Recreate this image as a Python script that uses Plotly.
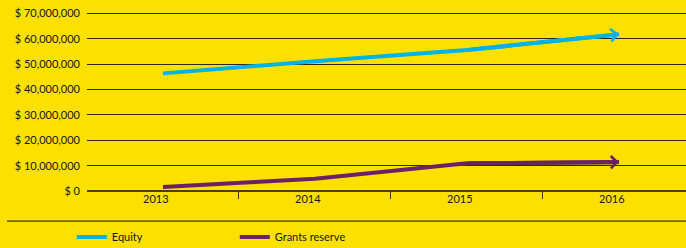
import plotly.graph_objects as go

years = ["2013", "2014", "2015", "2016"]
equity = [46.4e6, 51.2e6, 55.6e6, 61.8e6]
grants_reserve = [1.6e6, 4.8e6, 10.9e6, 11.4e6]
y_ticks = [0, 10e6, 20e6, 30e6, 40e6, 50e6, 60e6, 70e6]
y_tick_labels = ["$ 0", "$ 10,000,000", "$ 20,000,000", "$ 30,000,000",
                 "$ 40,000,000", "$ 50,000,000", "$ 60,000,000", "$ 70,000,000"]

BG = "#FCE100"
BLUE = "#00B3E6"
PURPLE = "#6A2166"
FONT = "Lato"
TXT = "#151515"
FS = 11

xpos = list(range(len(years)))

fig = go.Figure()
fig.add_trace(go.Scatter(x=xpos, y=equity, mode="lines", name="Equity",
                         line=dict(color=BLUE, width=4)))
fig.add_trace(go.Scatter(x=xpos, y=grants_reserve, mode="lines", name="Grants reserve",
                         line=dict(color=PURPLE, width=4)))
# chevron arrow heads at the end of each series
for vals, col in ((equity, BLUE), (grants_reserve, PURPLE)):
    fig.add_annotation(x=xpos[-1], y=vals[-1], ax=xpos[-2], ay=vals[-2],
                       xref="x", yref="y", axref="x", ayref="y", text="",
                       showarrow=True, arrowhead=4, arrowwidth=4, arrowsize=0.6,
                       arrowcolor=col, standoff=0)

# plot area: bottom at 191px, 25.3px per 10M; top slightly above the 70M line
Y_TOP = 71e6
plot_h = 177 * Y_TOP / 70e6
top_margin = 191 - plot_h

fig.update_layout(
    width=686, height=248,
    margin=dict(l=87, r=0, t=top_margin, b=57, autoexpand=False),
    paper_bgcolor=BG, plot_bgcolor=BG,
    font=dict(family=FONT, size=FS, color=TXT),
    showlegend=True,
    legend=dict(orientation="h", x=-0.0254, xanchor="left", y=-46 / plot_h, yanchor="middle",
                entrywidth=118, entrywidthmode="pixels", bgcolor="rgba(0,0,0,0)",
                font=dict(family=FONT, size=FS, color=TXT), itemwidth=30),
)
fig.update_xaxes(
    range=[-0.5, 3.441], showgrid=False, zeroline=False, automargin=False,
    tickvals=[p - 0.047 for p in xpos], ticktext=years, ticks="",
    tickfont=dict(family=FONT, size=FS, color=TXT),
    showline=False,
    minor=dict(tickvals=[0.5, 1.5, 2.5], ticks="outside", ticklen=7, tickwidth=1,
               tickcolor="#3a3300", showgrid=False),
)
fig.update_yaxes(
    range=[0, Y_TOP], tickvals=y_ticks, ticktext=y_tick_labels, automargin=False,
    showgrid=True, gridcolor="#2e2a00", gridwidth=1,
    zeroline=True, zerolinecolor="#4a4200", zerolinewidth=1.5,
    ticks="", ticklabelstandoff=6,
    tickfont=dict(family=FONT, size=FS, color=TXT),
)
fig.add_shape(type="line", xref="paper", yref="paper",
              x0=-0.1336, x1=1, y0=-30 / plot_h, y1=-30 / plot_h,
              line=dict(color="#111111", width=1))

fig.write_html(
    "out.html",
    config={"displayModeBar": False},
    post_script="document.body.style.margin='0';document.body.style.overflow='hidden';",
)
